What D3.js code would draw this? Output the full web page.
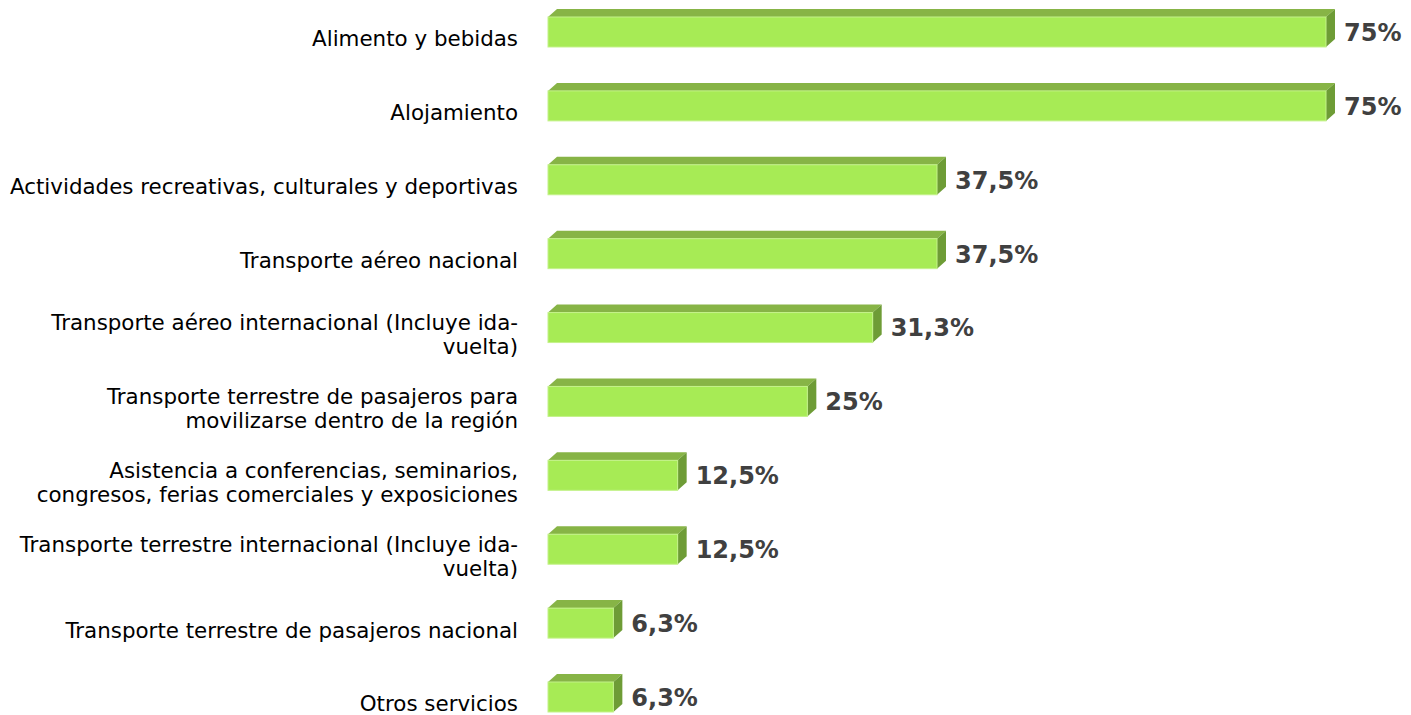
<!DOCTYPE html>
<html><head><meta charset="utf-8">
<script src="https://cdn.jsdelivr.net/npm/d3@7"></script>
<style>body{margin:0;background:#fff;} svg{display:block;}</style>
</head><body>
<svg id="chart" width="1411" height="715"></svg>
<script>
const categories = [
  ["Alimento y bebidas"],
  ["Alojamiento"],
  ["Actividades recreativas, culturales y deportivas"],
  ["Transporte aéreo nacional"],
  ["Transporte aéreo internacional (Incluye ida-", "vuelta)"],
  ["Transporte terrestre de pasajeros para", "movilizarse dentro de la región"],
  ["Asistencia a conferencias, seminarios,", "congresos, ferias comerciales y exposiciones"],
  ["Transporte terrestre internacional (Incluye ida-", "vuelta)"],
  ["Transporte terrestre de pasajeros nacional"],
  ["Otros servicios"]
];
const values = [75, 75, 37.5, 37.5, 31.3, 25, 12.5, 12.5, 6.3, 6.3];
const valueLabels = ["75%", "75%", "37,5%", "37,5%", "31,3%", "25%", "12,5%", "12,5%", "6,3%", "6,3%"];

const svg = d3.select("#chart");
const x = d3.scaleLinear().domain([0, 75]).range([548, 1326]);
const idx = d3.range(categories.length);
const y = d3.scaleBand().domain(idx).range([17, 712]).paddingInner(0.594).paddingOuter(0).align(0);
const dx = 9, dy = 8;

const g = svg.selectAll("g.bar").data(idx).join("g").attr("class", "bar");
// top face
g.append("path").attr("fill", "#87B446").attr("d", i => {
  const x0 = x(0), x1 = x(values[i]), yt = y(i);
  return `M${x0},${yt} L${x0+dx},${yt-dy} L${x1+dx},${yt-dy} L${x1},${yt} Z`;
});
// side face
g.append("path").attr("fill", "#6E9C36").attr("d", i => {
  const x1 = x(values[i]), yt = y(i), yb = y(i) + y.bandwidth();
  return `M${x1},${yt} L${x1+dx},${yt-dy} L${x1+dx},${yb-dy} L${x1},${yb} Z`;
});
// front face
g.append("rect")
  .attr("x", x(0)).attr("y", i => y(i))
  .attr("width", i => x(values[i]) - x(0)).attr("height", y.bandwidth())
  .attr("fill", "#A7EB55").attr("stroke", "#C4F28A").attr("stroke-width", 1);

// value labels
svg.selectAll("text.val").data(idx).join("text").attr("class", "val")
  .attr("x", i => x(values[i]) + dx + 9)
  .attr("y", i => y(i) + y.bandwidth() / 2)
  .attr("dy", "0.37em")
  .attr("font-family", "DejaVu Sans")
  .attr("font-weight", "bold")
  .attr("font-size", 24)
  .attr("fill", "#404040")
  .text(i => valueLabels[i]);

// category labels
const lh = 24;
const lab = svg.selectAll("text.cat").data(idx).join("text").attr("class", "cat")
  .attr("text-anchor", "end")
  .attr("font-family", "DejaVu Sans")
  .attr("font-size", 21.4)
  .attr("fill", "#000");
lab.each(function(i) {
  const lines = categories[i];
  const cy = y(i) + y.bandwidth() / 2 + 7;
  const startY = cy - (lines.length - 1) * lh / 2;
  d3.select(this).selectAll("tspan").data(lines).join("tspan")
    .attr("x", 518)
    .attr("y", (d, k) => startY + k * lh)
    .attr("dy", "0.35em")
    .text(d => d);
});
</script>
</body></html>
